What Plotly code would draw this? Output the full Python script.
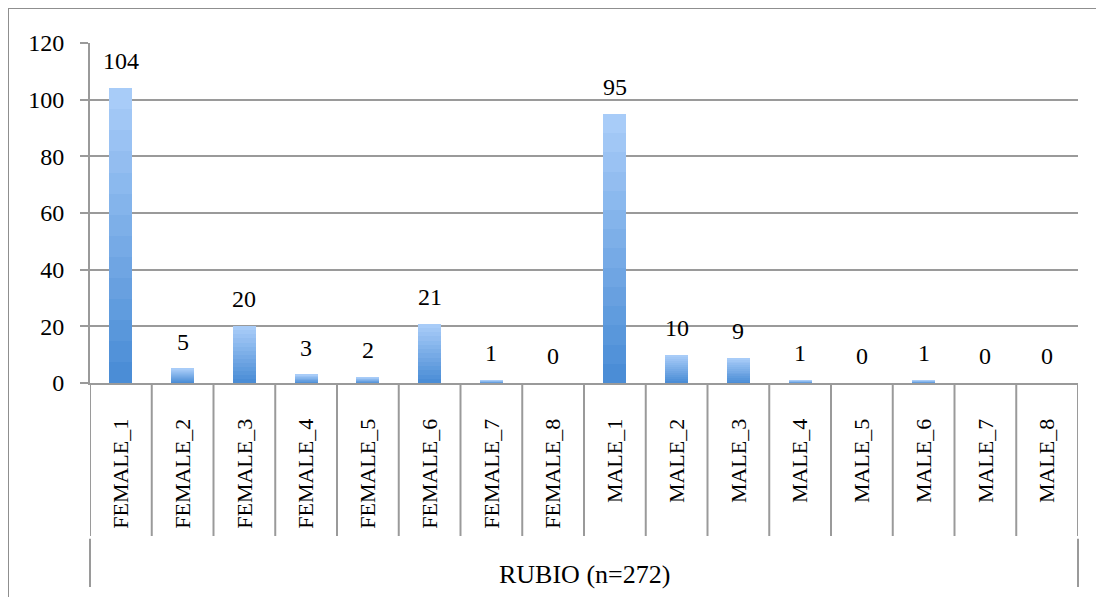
import plotly.graph_objects as go

categories = ["FEMALE_1", "FEMALE_2", "FEMALE_3", "FEMALE_4", "FEMALE_5", "FEMALE_6", "FEMALE_7", "FEMALE_8",
              "MALE_1", "MALE_2", "MALE_3", "MALE_4", "MALE_5", "MALE_6", "MALE_7", "MALE_8"]
values = [104, 5, 20, 3, 2, 21, 1, 0, 95, 10, 9, 1, 0, 1, 0, 0]
group_label = "RUBIO (n=272)"
y_ticks = [0, 20, 40, 60, 80, 100, 120]

FONT = "Liberation Serif, Times New Roman, serif"
GRID = "#9a9a9a"

bottom_rgb = (0x4B, 0x8D, 0xD6)
top_rgb = (0xA8, 0xCC, 0xF8)
N = 14

fig = go.Figure()
for k in range(N):
    t = k / (N - 1)
    c = tuple(round(b + (tp - b) * t) for b, tp in zip(bottom_rgb, top_rgb))
    fig.add_trace(go.Bar(
        x=categories, y=[v / N for v in values],
        marker=dict(color="rgb(%d,%d,%d)" % c, line=dict(width=0)),
        showlegend=False, hoverinfo="skip",
    ))

for cat, v in zip(categories, values):
    fig.add_annotation(x=cat, y=v, text=str(v), showarrow=False, yanchor="bottom",
                       yshift=12, font=dict(family=FONT, size=24, color="black"))

fig.add_annotation(x=0.5, y=-0.562, xref="paper", yref="paper", text=group_label, showarrow=False,
                   yanchor="middle", font=dict(family=FONT, size=26, color="black"))

# category divider lines (at category boundaries)
for i in range(len(categories) + 1):
    fig.add_shape(type="line", xref="x", yref="paper", x0=i - 0.5, x1=i - 0.5, y0=0, y1=-0.45,
                  line=dict(color=GRID, width=2))
# group separator lines below category area
for xp in (0, 1):
    fig.add_shape(type="line", xref="paper", yref="paper", x0=xp, x1=xp, y0=-0.458, y1=-0.6,
                  line=dict(color=GRID, width=2))
# outer frame
fig.add_shape(type="rect", xref="paper", yref="paper", x0=-0.083, x1=1.04, y0=-0.7, y1=1.103,
              line=dict(color="#8f8f8f", width=2))

fig.update_layout(
    width=1104, height=597,
    margin=dict(l=82, r=34, t=35, b=222),
    barmode="stack", bargap=0.627,
    plot_bgcolor="white", paper_bgcolor="white",
    font=dict(family=FONT, size=24, color="black"),
    xaxis=dict(type="category", showline=True, linecolor=GRID, linewidth=2,
               ticks="outside", ticklen=25, tickwidth=1, tickcolor="rgba(0,0,0,0)",
               tickangle=-90, tickfont=dict(family=FONT, size=22, color="black"),
               showgrid=False, zeroline=False, range=[-0.5, len(categories) - 0.5]),
    yaxis=dict(range=[0, 120], tickvals=y_ticks, showgrid=True, gridcolor=GRID, gridwidth=2,
               showline=True, linecolor=GRID, linewidth=2, ticks="outside", ticklen=8, tickwidth=2,
               tickcolor=GRID, zeroline=False, ticklabelstandoff=11,
               tickfont=dict(family=FONT, size=24, color="black")),
)

fig.write_html("out.html")
